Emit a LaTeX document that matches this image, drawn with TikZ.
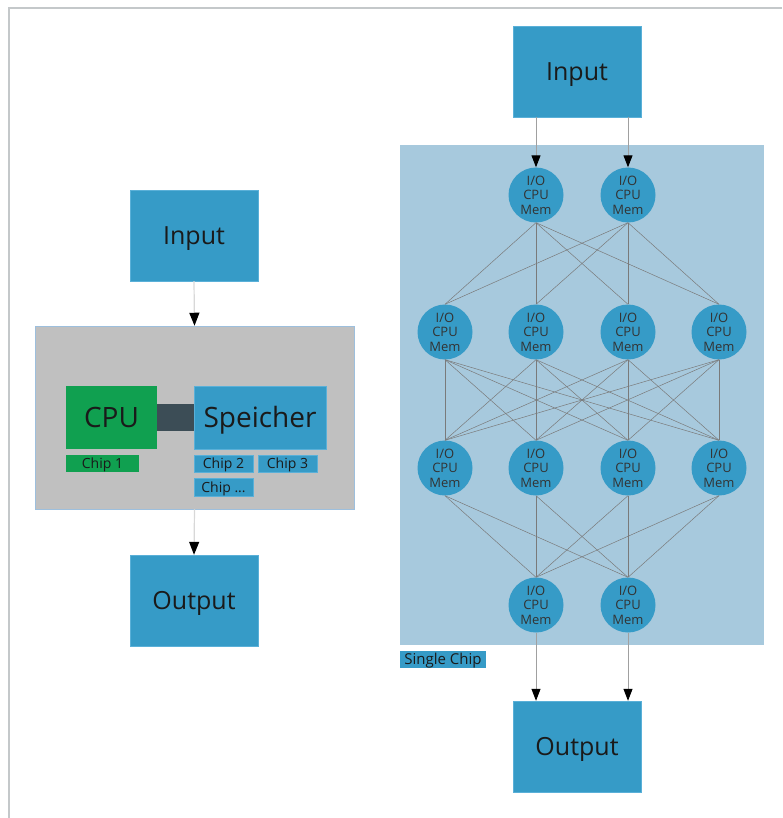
\documentclass[tikz,border=0pt]{standalone}
\usepackage{fontspec}
\setmainfont{Open Sans}
\usetikzlibrary{arrows.meta}
\definecolor{boxblue}{HTML}{369BC7}
\definecolor{boxedge}{HTML}{5AB0D8}
\definecolor{chipbg}{HTML}{A7C9DD}
\definecolor{graybg}{HTML}{C0C0C0}
\definecolor{grayedge}{HTML}{9DBFDD}
\definecolor{cpugreen}{HTML}{10A050}
\definecolor{barslate}{HTML}{3C4D56}
\definecolor{txt}{HTML}{1A1A1A}
\definecolor{ntxt}{HTML}{333333}
\definecolor{edgegray}{HTML}{7A7A7A}
\definecolor{framegray}{HTML}{C4C8CA}
\definecolor{shaftlight}{HTML}{D8D8D8}
\definecolor{shaftdark}{HTML}{A0A0A0}
\begin{document}
\begin{tikzpicture}[x=1pt,y=-1pt,
  bigbox/.style={draw=boxedge, line width=0.4pt, fill=boxblue, minimum width=128pt, minimum height=91pt, inner sep=0pt, font=\fontsize{25}{30}\selectfont, text=txt, text height=17.9pt, text depth=0pt},
  unit/.style={draw=none, minimum height=63pt, inner sep=0pt, font=\fontsize{28}{32}\selectfont, text=txt, text height=20pt, text depth=0pt},
  tagbox/.style={draw=boxedge, line width=0.3pt, minimum height=17pt, inner sep=0pt, font=\fontsize{14}{16}\selectfont, text=txt, text height=10pt, text depth=0pt},
  neuron/.style={circle, fill=boxblue, minimum size=55pt, inner sep=0pt, align=center, font=\fontsize{13}{14.5}\selectfont, text=ntxt},
  link/.style={draw=edgegray, line width=0.5pt},
  arrL/.style={draw=shaftlight, line width=1.2pt, -{Triangle[width=10pt,length=13pt,color=black,fill=black]}},
  arrR/.style={draw=shaftdark, line width=1pt, -{Triangle[width=9pt,length=12pt,color=black,fill=black]}}
]
\useasboundingbox (0,0) rectangle (782,818);
% frame
\draw[framegray, line width=2pt] (9,818) -- (9,8) -- (782,8);

% ---------- left ----------
\node[bigbox] (inL) at (194,235.5) {Input};
\node[draw=grayedge, line width=0.5pt, fill=graybg, minimum width=319pt, minimum height=183pt, inner sep=0pt] (core) at (194.5,417.5) {};
\node[unit, fill=cpugreen, minimum width=91pt] (cpu) at (111.5,417.5) {CPU};
\node[fill=barslate, minimum width=37pt, minimum height=27pt, inner sep=0pt] (bus) at (175.5,417.5) {};
\node[unit, fill=boxblue, draw=boxedge, line width=0.3pt, minimum width=132pt] (mem) at (260,417.5) {Speicher};
\node[tagbox, fill=cpugreen, draw=none, minimum width=73pt] (c1) at (102.5,463.5) {Chip 1};
\node[tagbox, fill=boxblue, minimum width=59pt] (c2) at (223.5,463.5) {Chip 2};
\node[tagbox, fill=boxblue, minimum width=59pt] (c3) at (287.5,463.5) {Chip 3};
\node[tagbox, fill=boxblue, minimum width=59pt, minimum height=18pt] (cx) at (223.5,487) {Chip ...};
\node[bigbox] (outL) at (194,600.5) {Output};
\draw[arrL] (inL.south) -- (core.north);
\draw[arrL] (core.south) -- (outL.north);

% ---------- right ----------
\node[bigbox] (inR) at (577,71.5) {Input};
\node[fill=chipbg, minimum width=364pt, minimum height=500pt, inner sep=0pt] (chip) at (582,395) {};
\node[tagbox, fill=boxblue, draw=none, minimum width=86pt, font=\fontsize{15}{17}\selectfont, text height=10.7pt] (single) at (443,659.5) {Single Chip};
\node[bigbox] (outR) at (577,746.5) {Output};

\foreach \i/\x in {1/536,2/628}
  \node[neuron] (a\i) at (\x,195) {I/O\\CPU\\Mem};
\foreach \i/\x in {1/445,2/536,3/628,4/719}
  \node[neuron] (b\i) at (\x,332) {I/O\\CPU\\Mem};
\foreach \i/\x in {1/445,2/536,3/628,4/719}
  \node[neuron] (c\i) at (\x,468) {I/O\\CPU\\Mem};
\foreach \i/\x in {1/536,2/628}
  \node[neuron] (d\i) at (\x,605) {I/O\\CPU\\Mem};

\foreach \i in {1,2}
  \foreach \j in {1,2,3,4}
    \draw[link] (a\i.south) -- (b\j.north);
\foreach \i in {1,2,3,4}
  \foreach \j in {1,2,3,4}
    \draw[link] (b\i.south) -- (c\j.north);
\foreach \i in {1,2,3,4}
  \foreach \j in {1,2}
    \draw[link] (c\i.south) -- (d\j.north);

\foreach \i in {1,2} {
  \draw[arrR] (a\i |- inR.south) -- (a\i.north);
  \draw[arrR] (d\i.south) -- (d\i |- outR.north);
}
\end{tikzpicture}
\end{document}
